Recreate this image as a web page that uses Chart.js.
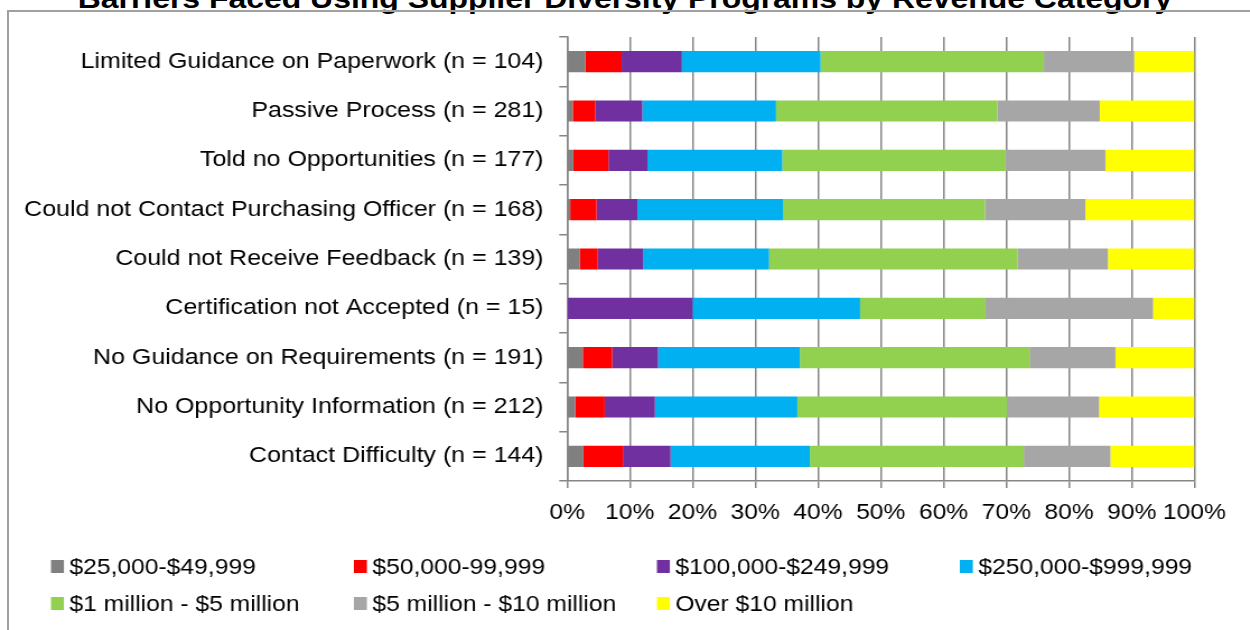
<!DOCTYPE html>
<html>
<head>
<meta charset="utf-8">
<script src="https://cdn.jsdelivr.net/npm/chart.js@4"></script>
<style>
  html, body { margin: 0; padding: 0; background: #fff; }
  #wrap { position: relative; width: 1250px; height: 630px; overflow: hidden; }
  #frame { position: absolute; left: 7px; top: 10px; width: 1300px; height: 700px;
           border-top: 2px solid #a0a0a0; border-left: 2px solid #a0a0a0; box-sizing: border-box; }
  #title { position: absolute; left: 0; width: 1116px; top: -18px; text-align: center;
           font: bold 28.5px "Liberation Sans", Arial, sans-serif; color: #000; white-space: nowrap;
           transform: scaleX(1.12); transform-origin: 0 0; }
  /* the original picture is a little stretched sideways, so is this one */
  #chartBox { position: absolute; left: 0; top: 0; width: 1116px; height: 630px;
              transform: scaleX(1.12); transform-origin: 0 0; }
</style>
</head>
<body>
<div id="wrap">
  <div id="title">Barriers Faced Using Supplier Diversity Programs by Revenue Category</div>
  <div id="frame"></div>
  <div id="chartBox"><canvas id="myBarrierChart" width="1116" height="630"></canvas></div>
</div>
<script>
const categories = [
  'Limited Guidance on Paperwork (n = 104)',
  'Passive Process (n = 281)',
  'Told no Opportunities (n = 177)',
  'Could not Contact Purchasing Officer (n = 168)',
  'Could not Receive Feedback (n = 139)',
  'Certification not Accepted (n = 15)',
  'No Guidance on Requirements (n = 191)',
  'No Opportunity Information (n = 212)',
  'Contact Difficulty (n = 144)'
];

const seriesNames = [
  '$25,000-$49,999',
  '$50,000-99,999',
  '$100,000-$249,999',
  '$250,000-$999,999',
  '$1 million - $5 million',
  '$5 million - $10 million',
  'Over $10 million'
];

// percent of each row
const rev25k  = [2.9, 0.9, 1.0, 0.5, 2.0, 0.0, 2.5, 1.3, 2.6];
const rev50k  = [5.8, 3.6, 5.6, 4.2, 2.9, 0.0, 4.7, 4.7, 6.3];
const rev100k = [9.6, 7.5, 6.2, 6.5, 7.2, 20.0, 7.3, 8.0, 7.6];
const rev250k = [22.1, 21.3, 21.5, 23.2, 20.1, 26.7, 22.6, 22.7, 22.2];
const rev1m   = [35.6, 35.3, 35.6, 32.2, 39.6, 20.0, 36.6, 33.4, 34.1];
const rev5m   = [14.4, 16.3, 15.9, 16.0, 14.4, 26.7, 13.7, 14.7, 13.8];
const rev10m  = [9.6, 15.1, 14.2, 17.4, 13.8, 6.6, 12.6, 15.2, 13.4];

const xTicks = ['0%', '10%', '20%', '30%', '40%', '50%', '60%', '70%', '80%', '90%', '100%'];

const seriesValues = [rev25k, rev50k, rev100k, rev250k, rev1m, rev5m, rev10m];
const seriesColors = ['#808080', '#FF0000', '#7030A0', '#00B0F0', '#92D050', '#A6A6A6', '#FFFF00'];

const fontFamily = '"Liberation Sans", Arial, sans-serif';

// legend laid out in fixed columns like the original
const gridLegend = {
  id: 'gridLegend',
  afterDraw(chart) {
    const ctx = chart.ctx;
    ctx.save();
    ctx.font = '22px ' + fontFamily;
    ctx.textBaseline = 'middle';
    seriesNames.forEach((name, i) => {
      const col = i < 4 ? i : i - 4;
      const row = i < 4 ? 0 : 1;
      const x = 45.5 + col * 270.5;
      const y = 567 + row * 37;
      ctx.fillStyle = seriesColors[i];
      ctx.fillRect(x, y - 7, 11.6, 13);
      ctx.fillStyle = '#000';
      ctx.fillText(name, x + 16.5, y + 1);
    });
    ctx.restore();
  }
};

const ctx = document.getElementById('myBarrierChart').getContext('2d');
const chart = new Chart(ctx, {
  type: 'bar',
  data: {
    labels: categories,
    datasets: seriesValues.map((vals, i) => ({
      label: seriesNames[i],
      data: vals,
      backgroundColor: seriesColors[i],
      borderWidth: 0,
      barPercentage: 0.43,
      categoryPercentage: 1
    }))
  },
  options: {
    indexAxis: 'y',
    responsive: false,
    animation: false,
    layout: { padding: { left: 0, right: 49.5, top: 37, bottom: 100 } },
    plugins: {
      legend: { display: false },
      tooltip: { enabled: false },
      title: { display: false }
    },
    scales: {
      x: {
        stacked: true,
        min: 0,
        max: 100,
        afterFit: scale => { scale.height = 49; },
        ticks: {
          stepSize: 10,
          autoSkip: false,
          color: '#000',
          font: { family: fontFamily, size: 22 },
          padding: 12,
          maxRotation: 0,
          callback: (v, i) => xTicks[i]
        },
        grid: { color: '#868686', lineWidth: 1.5, tickLength: 7 },
        border: { color: '#868686', width: 1.5 }
      },
      y: {
        stacked: true,
        afterFit: scale => { scale.width = 506.3; },
        ticks: {
          color: '#000',
          font: { family: fontFamily, size: 22.3 },
          padding: 14
        },
        grid: { offset: true, drawOnChartArea: false, color: '#868686', lineWidth: 1.5, tickLength: 7 },
        border: { color: '#868686', width: 1.5 }
      }
    }
  },
  plugins: [gridLegend]
});
</script>
</body>
</html>
